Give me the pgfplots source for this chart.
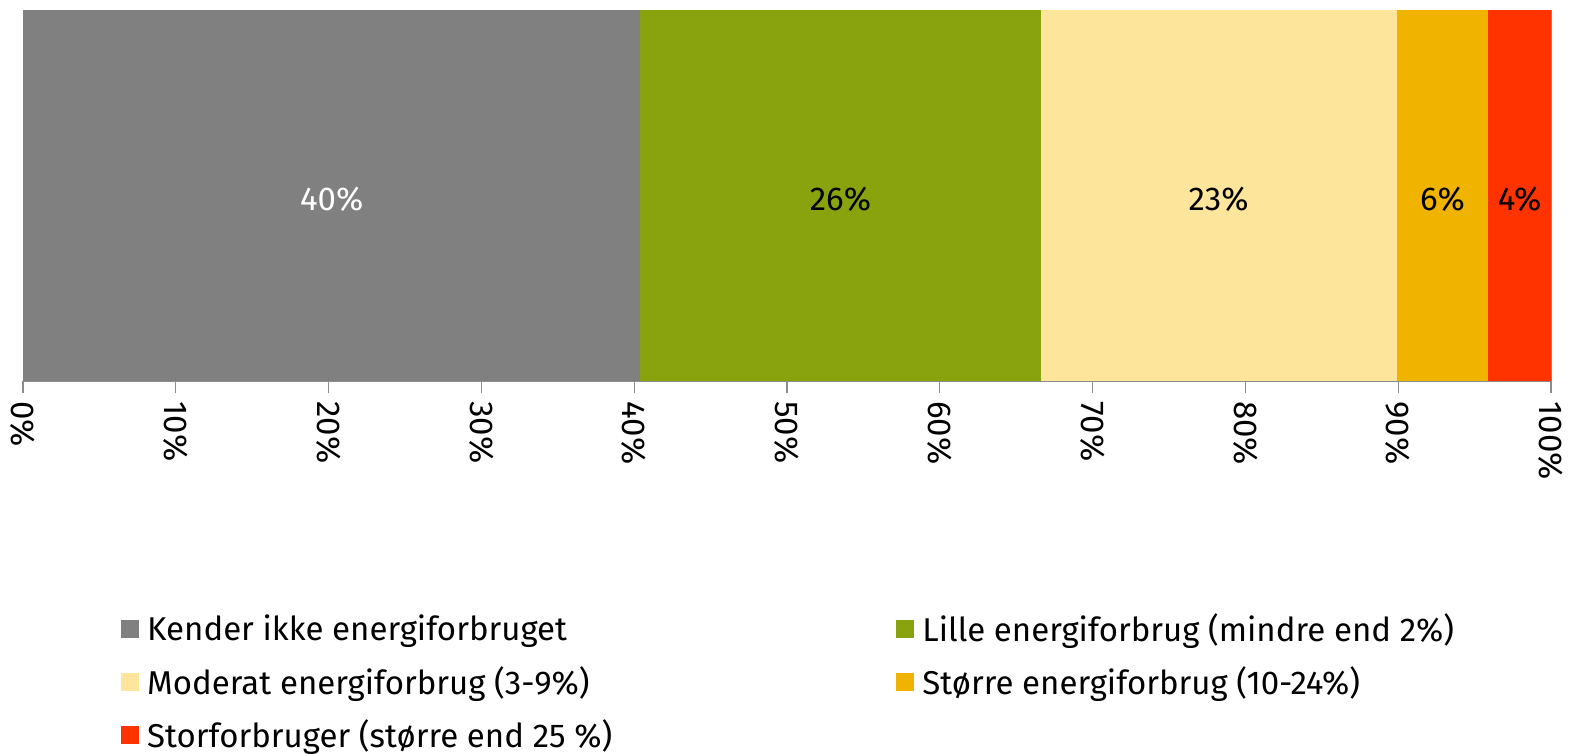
\documentclass[border=0pt]{standalone}
\usepackage{fontspec}
\setmainfont{Fira Sans}
\usepackage{pgfplots}
\pgfplotsset{compat=1.18}
\definecolor{cGray}{RGB}{128,128,128}
\definecolor{cGreen}{RGB}{137,163,14}
\definecolor{cLight}{RGB}{253,229,155}
\definecolor{cOrange}{RGB}{240,180,0}
\definecolor{cRed}{RGB}{255,51,0}
\newcommand\fs{\fontsize{16.5}{19}\selectfont}
\begin{document}
\begin{tikzpicture}[x=1pt,y=1pt]
\path[use as bounding box] (0,0) rectangle (784.5,377);
\begin{axis}[
  at={(11.5pt,186.5pt)}, anchor=south west,
  width=764pt, height=185.5pt, scale only axis,
  xbar stacked, bar width=185.5pt,
  xmin=0, xmax=100, ymin=-0.5, ymax=0.5,
  axis x line*=bottom, axis y line*=right,
  axis line style={draw=black!45, line width=0.6pt},
  ytick=\empty,
  xtick={0,10,...,100},
  xticklabels={0\%,10\%,20\%,30\%,40\%,50\%,60\%,70\%,80\%,90\%,100\%},
  xtick style={draw=black!45, line width=0.6pt},
  tick align=outside, major tick length=6pt,
  xticklabel style={rotate=-90, anchor=west, font=\fs, inner sep=4pt},
  legend columns=2,
  legend cell align=left,
  legend style={draw=none, fill=none, at={(0.064,-0.615)}, anchor=north west, inner sep=0pt,
    font=\fs, row sep=7pt,
    /tikz/every even column/.append style={column sep=140pt},
    /tikz/every odd column/.append style={column sep=2pt}},
  legend image code/.code={\fill[#1] (0pt,-4.5pt) rectangle (9pt,4.5pt);},
  after end axis/.code={
    \node[white, font=\fs] at (axis cs:20.2,-0.01) {40\%};
    \node[font=\fs] at (axis cs:53.5,-0.01) {26\%};
    \node[font=\fs] at (axis cs:78.25,-0.01) {23\%};
    \node[font=\fs] at (axis cs:92.9,-0.01) {6\%};
    \node[font=\fs] at (axis cs:97.95,-0.01) {4\%};
  },
]
\addplot[fill=cGray, draw=none] coordinates {(40.4,0)};
\addplot[fill=cGreen, draw=none] coordinates {(26.2,0)};
\addplot[fill=cLight, draw=none] coordinates {(23.3,0)};
\addplot[fill=cOrange, draw=none] coordinates {(6.0,0)};
\addplot[fill=cRed, draw=none] coordinates {(4.1,0)};
\legend{Kender ikke energiforbruget, Lille energiforbrug (mindre end 2\%), Moderat energiforbrug (3-9\%), Større energiforbrug (10-24\%), Storforbruger (større end 25 \%)}
\end{axis}
\end{tikzpicture}
\end{document}
